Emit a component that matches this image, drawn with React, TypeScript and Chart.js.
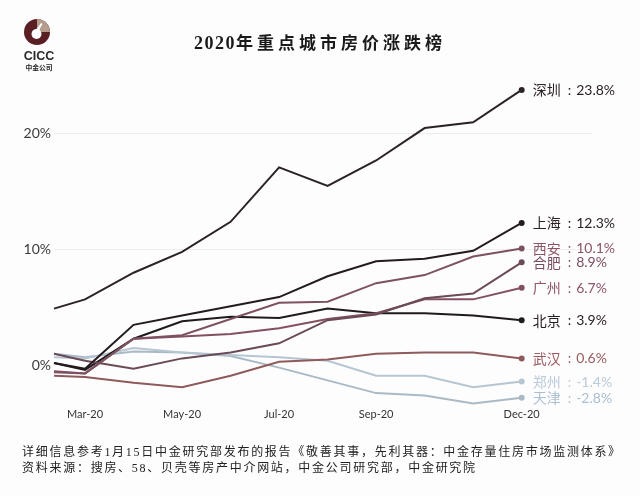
import React, { useEffect, useRef } from 'react';
import { Chart, registerables } from 'chart.js';

Chart.register(...registerables);

// x positions in month units (3 = Mar-20 ... 12 = Dec-20); series starts mid-Feb
const monthPos = [2.36, 3, 4, 5, 6, 7, 8, 9, 10, 11, 12];
const xTickValues = [3, 5, 7, 9, 12];
const xTickLabels = ['Mar-20', 'May-20', 'Jul-20', 'Sep-20', 'Dec-20'];
const yTickValues = [0, 10, 20];

const cities = ['深圳', '上海', '西安', '合肥', '广州', '北京', '武汉', '郑州', '天津'];

const shenzhen = [4.9, 5.7, 8.0, 9.8, 12.4, 17.1, 15.5, 17.7, 20.5, 21.0, 23.8];
const shanghai = [0.2, -0.3, 3.5, 4.3, 5.1, 5.9, 7.7, 9.0, 9.2, 9.9, 12.3];
const xian = [-0.6, -0.7, 2.3, 2.6, 4.0, 5.4, 5.5, 7.1, 7.8, 9.4, 10.1];
const hefei = [1.0, 0.4, -0.3, 0.6, 1.1, 1.9, 3.9, 4.4, 5.8, 6.2, 8.9];
const guangzhou = [-0.5, -0.7, 2.3, 2.5, 2.7, 3.2, 4.0, 4.5, 5.7, 5.7, 6.7];
const beijing = [0.2, -0.4, 2.3, 3.8, 4.2, 4.1, 4.9, 4.5, 4.5, 4.3, 3.9];
const wuhan = [-0.9, -1.0, -1.5, -1.9, -0.9, 0.3, 0.5, 1.0, 1.1, 1.1, 0.6];
const zhengzhou = [0.7, 0.6, 1.5, 1.1, 0.9, 0.7, 0.4, -0.9, -0.9, -1.9, -1.4];
const tianjin = [1.0, 0.7, 1.2, 1.1, 0.8, -0.2, -1.3, -2.4, -2.6, -3.3, -2.8];

const series = [shenzhen, shanghai, xian, hefei, guangzhou, beijing, wuhan, zhengzhou, tianjin];

const lineColors = ['#2a2226', '#231b1f', '#7d5260', '#6a4a58', '#83505e', '#1f1a1d', '#8e5a5a', '#b6c6d2', '#a9bac6'];
const labelColors = ['#2a2226', '#2a2226', '#8c5566', '#7a4d60', '#8d5564', '#241c20', '#9b5a5c', '#b9cad8', '#aabfcf'];

const endLabelPlugin = {
  id: 'endLabels',
  afterDatasetsDraw(chart: any) {
    const ctx = chart.ctx;
    ctx.save();
    ctx.textBaseline = 'middle';
    ctx.textAlign = 'left';
    chart.data.datasets.forEach((ds: any, i: number) => {
      const meta = chart.getDatasetMeta(i);
      const pt = meta.data[meta.data.length - 1];
      const v = series[i][series[i].length - 1];
      ctx.fillStyle = labelColors[i];
      ctx.font = "14px 'Noto Sans CJK SC'";
      let x = pt.x + 11;
      ctx.fillText(cities[i], x, pt.y);
      x += ctx.measureText(cities[i]).width + 7;
      ctx.font = "14px Lato";
      ctx.fillText(':', x, pt.y + 0.5);
      x += ctx.measureText(':').width + 5;
      ctx.fillText(`${v.toFixed(1)}%`, x, pt.y + 0.5);
    });
    ctx.restore();
  },
};

function ChartCanvas() {
  const ref = useRef<HTMLCanvasElement | null>(null);
  useEffect(() => {
    if (!ref.current) return;
    const chart = new Chart(ref.current, {
      type: 'line',
      data: {
        datasets: series.map((s, i) => ({
          label: cities[i],
          data: s.map((v, j) => ({ x: monthPos[j], y: v })),
          borderColor: lineColors[i],
          backgroundColor: lineColors[i],
          borderWidth: 2,
          tension: 0,
          clip: false as any,
          pointRadius: (c: any) => (c.dataIndex === s.length - 1 ? 3 : 0),
          pointBorderWidth: 0,
        })),
      },
      options: {
        animation: false,
        responsive: false,
        maintainAspectRatio: false,
        layout: { padding: { left: 0, top: 76, right: 48, bottom: 67 } },
        plugins: { legend: { display: false }, tooltip: { enabled: false } },
        scales: {
          x: {
            type: 'linear',
            min: 2.36,
            max: 13.45,
            grid: { display: false, drawTicks: false },
            border: { display: false },
            afterBuildTicks: (scale: any) => {
              scale.ticks = xTickValues.map((v) => ({ value: v }));
            },
            afterFit: (scale: any) => {
              scale.height = 22;
            },
            ticks: {
              autoSkip: false,
              maxRotation: 0,
              padding: 1,
              color: '#333333',
              font: { family: 'Lato', size: 11 },
              callback: (v: any) => xTickLabels[xTickValues.indexOf(Number(v))] ?? '',
            },
          },
          y: {
            min: -3.6,
            max: 25,
            grid: {
              drawTicks: false,
              color: (c: any) => (c.tick && c.tick.value === 0 ? 'rgba(0,0,0,0)' : '#efebee'),
              lineWidth: 1,
            },
            border: { display: false },
            afterBuildTicks: (scale: any) => {
              scale.ticks = yTickValues.map((v) => ({ value: v }));
            },
            afterFit: (scale: any) => {
              scale.width = 54;
            },
            ticks: {
              padding: 3,
              color: '#3a3a3a',
              font: { family: 'Lato', size: 14 },
              callback: (v: any) => `${v}%`,
            },
          },
        },
      },
      plugins: [endLabelPlugin],
    } as any);
    return () => chart.destroy();
  }, []);
  return <canvas ref={ref} width={640} height={496} style={{ position: 'absolute', left: 0, top: 0, width: 640, height: 496 }} />;
}

export default function App() {
  return (
    <div style={{ position: 'absolute', left: 0, top: 0, width: 640, height: 496, background: '#fefdfe', overflow: 'hidden' }}>
      <ChartCanvas />
      <svg width={30} height={30} viewBox="0 0 30 30" style={{ position: 'absolute', left: 22, top: 17 }}>
        <circle cx={15} cy={15} r={13} fill="#5a1f23" />
        <path d="M15 15 L15 2 A13 13 0 0 1 28 15 Z" fill="#b59c8c" />
        <circle cx={14.5} cy={17} r={5} fill="#fefdfe" />
        <path d="M14.5 12 Q17 9 19 6 L20.5 7 Q18 11 17 14 Z" fill="#fefdfe" />
      </svg>
      <div style={{ position: 'absolute', left: 22, top: 49, width: 34, textAlign: 'center', fontFamily: "'Liberation Sans', Arial", fontWeight: 700, fontSize: 12.5, lineHeight: '14px', color: '#2a2a2a' }}>CICC</div>
      <div style={{ position: 'absolute', left: 22, top: 63, width: 34, textAlign: 'center', fontFamily: "'Noto Sans CJK SC'", fontWeight: 700, fontSize: 6.8, lineHeight: '9px', color: '#2a2a2a' }}>中金公司</div>
      <div style={{ position: 'absolute', left: 0, top: 30, width: 640, textAlign: 'center', fontWeight: 700, color: '#1a1a1a', lineHeight: '24px', whiteSpace: 'nowrap' }}>
        <span style={{ fontFamily: "'Liberation Serif'", fontSize: 18, letterSpacing: '1.5px' }}>2020</span>
        <span style={{ fontFamily: "'Noto Sans CJK SC'", fontSize: 17, letterSpacing: '4px' }}>年重点城市房价涨跌榜</span>
      </div>
      <div style={{ position: 'absolute', left: 22, top: 444, fontFamily: "'Liberation Serif', 'Noto Sans CJK SC'", fontSize: 12, lineHeight: '16px', letterSpacing: '1.73px', color: '#222', whiteSpace: 'nowrap' }}>
        <div>详细信息参考1月15日中金研究部发布的报告《敬善其事，先利其器：中金存量住房市场监测体系》</div>
        <div>资料来源：搜房、58、贝壳等房产中介网站，中金公司研究部，中金研究院</div>
      </div>
    </div>
  );
}
